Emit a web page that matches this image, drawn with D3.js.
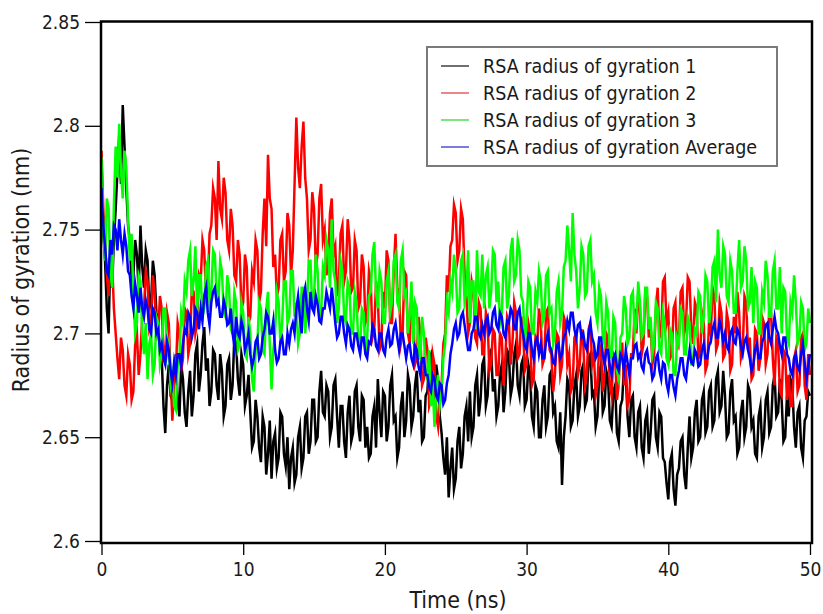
<!DOCTYPE html>
<html>
<head>
<meta charset="utf-8">
<script src="https://cdn.jsdelivr.net/npm/d3@7"></script>
<style>
  html, body { margin: 0; padding: 0; background: #fff; }
  svg { display: block; }
  text { font-family: "DejaVu Sans Condensed", "DejaVu Sans", sans-serif; fill: #1a1a1a; }
</style>
</head>
<body>
<svg id="chart" width="823" height="614"></svg>
<script>
const timeStep = 0.125;
const timeMax = 50;

const rg1 = [
  2.772,2.748,2.735,2.712,2.700,2.738,2.722,2.745,
  2.760,2.778,2.795,2.772,2.810,2.790,2.770,2.752,
  2.745,2.722,2.728,2.745,2.738,2.720,2.752,2.732,
  2.722,2.740,2.735,2.712,2.715,2.735,2.728,2.710,
  2.705,2.690,2.688,2.665,2.652,2.675,2.685,2.670,
  2.668,2.682,2.690,2.668,2.660,2.685,2.678,2.662,
  2.655,2.672,2.682,2.660,2.670,2.690,2.695,2.672,
  2.680,2.695,2.703,2.682,2.688,2.665,2.672,2.692,
  2.690,2.675,2.668,2.690,2.682,2.660,2.665,2.685,
  2.688,2.668,2.675,2.698,2.695,2.678,2.670,2.690,
  2.685,2.665,2.670,2.680,2.662,2.645,2.648,2.668,
  2.660,2.645,2.638,2.660,2.655,2.632,2.642,2.658,
  2.630,2.648,2.652,2.635,2.640,2.662,2.660,2.642,
  2.636,2.650,2.625,2.640,2.645,2.628,2.632,2.650,
  2.655,2.635,2.640,2.660,2.662,2.642,2.648,2.668,
  2.668,2.648,2.650,2.672,2.682,2.662,2.660,2.675,
  2.672,2.650,2.655,2.675,2.678,2.660,2.645,2.665,
  2.665,2.648,2.640,2.662,2.670,2.648,2.652,2.672,
  2.675,2.655,2.648,2.670,2.668,2.645,2.655,2.640,
  2.642,2.660,2.665,2.645,2.678,2.662,2.650,2.672,
  2.670,2.648,2.655,2.675,2.680,2.658,2.660,2.640,
  2.645,2.665,2.672,2.650,2.658,2.680,2.675,2.655,
  2.660,2.675,2.682,2.662,2.668,2.648,2.650,2.670,
  2.672,2.688,2.690,2.668,2.665,2.685,2.678,2.660,
  2.652,2.640,2.632,2.650,2.621,2.635,2.645,2.625,
  2.630,2.648,2.655,2.635,2.642,2.660,2.665,2.648,
  2.672,2.650,2.655,2.675,2.680,2.660,2.668,2.685,
  2.688,2.665,2.670,2.690,2.692,2.672,2.678,2.660,
  2.665,2.680,2.685,2.662,2.672,2.692,2.690,2.670,
  2.675,2.690,2.695,2.675,2.670,2.685,2.688,2.665,
  2.668,2.685,2.680,2.660,2.655,2.675,2.672,2.650,
  2.650,2.668,2.675,2.655,2.660,2.680,2.682,2.662,
  2.665,2.648,2.645,2.662,2.627,2.650,2.660,2.678,
  2.675,2.655,2.658,2.675,2.680,2.660,2.665,2.682,
  2.685,2.665,2.668,2.688,2.690,2.670,2.672,2.655,
  2.660,2.680,2.685,2.662,2.665,2.682,2.678,2.658,
  2.655,2.672,2.675,2.652,2.648,2.665,2.668,2.685,
  2.680,2.660,2.650,2.668,2.670,2.650,2.645,2.662,
  2.665,2.645,2.640,2.658,2.662,2.642,2.652,2.668,
  2.670,2.650,2.645,2.662,2.660,2.640,2.638,2.628,
  2.620,2.638,2.642,2.625,2.617,2.632,2.635,2.648,
  2.650,2.632,2.625,2.645,2.660,2.640,2.645,2.662,
  2.668,2.648,2.650,2.668,2.672,2.652,2.655,2.672,
  2.675,2.655,2.658,2.678,2.682,2.662,2.665,2.682,
  2.670,2.650,2.652,2.672,2.678,2.658,2.660,2.642,
  2.645,2.662,2.668,2.650,2.655,2.675,2.672,2.655,
  2.658,2.642,2.640,2.660,2.665,2.645,2.650,2.668,
  2.672,2.652,2.655,2.675,2.680,2.660,2.662,2.678,
  2.668,2.648,2.650,2.670,2.660,2.678,2.675,2.655,
  2.645,2.662,2.665,2.645,2.640,2.658,2.660,2.672,
  2.670
];

const rg2 = [
  2.788,2.760,2.745,2.728,2.718,2.742,2.735,2.712,
  2.700,2.688,2.678,2.698,2.692,2.675,2.670,2.690,
  2.685,2.668,2.672,2.695,2.700,2.680,2.690,2.708,
  2.712,2.730,2.725,2.702,2.705,2.728,2.720,2.698,
  2.700,2.718,2.712,2.688,2.690,2.710,2.705,2.680,
  2.658,2.675,2.682,2.705,2.700,2.682,2.688,2.712,
  2.710,2.690,2.695,2.722,2.720,2.700,2.705,2.728,
  2.725,2.745,2.740,2.718,2.722,2.748,2.752,2.770,
  2.765,2.745,2.783,2.760,2.755,2.775,2.768,2.745,
  2.740,2.760,2.752,2.728,2.725,2.745,2.738,2.712,
  2.715,2.738,2.732,2.705,2.708,2.730,2.725,2.745,
  2.740,2.715,2.720,2.748,2.765,2.742,2.786,2.765,
  2.760,2.732,2.738,2.718,2.722,2.745,2.748,2.725,
  2.730,2.758,2.752,2.728,2.740,2.772,2.804,2.780,
  2.770,2.790,2.802,2.775,2.765,2.740,2.745,2.768,
  2.760,2.732,2.738,2.765,2.772,2.745,2.750,2.728,
  2.735,2.758,2.765,2.738,2.742,2.718,2.725,2.748,
  2.752,2.725,2.730,2.755,2.745,2.720,2.722,2.745,
  2.740,2.712,2.715,2.738,2.732,2.705,2.708,2.730,
  2.725,2.698,2.702,2.725,2.718,2.692,2.695,2.720,
  2.712,2.740,2.735,2.705,2.705,2.730,2.748,2.722,
  2.720,2.695,2.700,2.730,2.728,2.700,2.695,2.718,
  2.710,2.685,2.688,2.708,2.700,2.675,2.678,2.698,
  2.692,2.665,2.668,2.690,2.685,2.660,2.655,2.672,
  2.675,2.695,2.700,2.728,2.720,2.742,2.745,2.762,
  2.758,2.735,2.740,2.760,2.755,2.728,2.718,2.700,
  2.705,2.725,2.720,2.698,2.695,2.715,2.712,2.690,
  2.690,2.710,2.705,2.682,2.685,2.702,2.700,2.680,
  2.680,2.700,2.698,2.675,2.688,2.708,2.705,2.685,
  2.695,2.715,2.710,2.688,2.690,2.708,2.702,2.682,
  2.685,2.705,2.700,2.675,2.678,2.698,2.695,2.712,
  2.705,2.685,2.688,2.710,2.712,2.692,2.690,2.672,
  2.680,2.700,2.698,2.680,2.685,2.708,2.705,2.685,
  2.690,2.672,2.675,2.698,2.700,2.680,2.685,2.702,
  2.695,2.675,2.680,2.702,2.705,2.685,2.690,2.670,
  2.675,2.695,2.692,2.672,2.680,2.700,2.698,2.675,
  2.670,2.690,2.688,2.668,2.675,2.695,2.695,2.675,
  2.685,2.665,2.668,2.690,2.690,2.712,2.700,2.718,
  2.712,2.690,2.695,2.720,2.718,2.698,2.705,2.685,
  2.690,2.712,2.722,2.698,2.700,2.725,2.727,2.705,
  2.710,2.688,2.690,2.712,2.715,2.692,2.698,2.720,
  2.722,2.700,2.705,2.727,2.725,2.702,2.695,2.715,
  2.712,2.688,2.690,2.710,2.705,2.682,2.685,2.705,
  2.700,2.722,2.718,2.692,2.695,2.715,2.710,2.688,
  2.690,2.710,2.705,2.682,2.685,2.708,2.700,2.720,
  2.710,2.688,2.692,2.718,2.715,2.692,2.698,2.678,
  2.680,2.702,2.700,2.682,2.688,2.708,2.705,2.685,
  2.690,2.712,2.710,2.688,2.675,2.698,2.695,2.672,
  2.670,2.692,2.690,2.668,2.680,2.665,2.665,2.688,
  2.692,2.672,2.675,2.698,2.700,2.675,2.668,2.690,
  2.680
];

const rg3 = [
  2.785,2.752,2.735,2.765,2.760,2.730,2.722,2.762,
  2.790,2.775,2.801,2.778,2.765,2.788,2.780,2.755,
  2.735,2.748,2.718,2.700,2.705,2.728,2.725,2.700,
  2.690,2.705,2.678,2.695,2.700,2.680,2.685,2.708,
  2.705,2.685,2.690,2.712,2.712,2.690,2.695,2.675,
  2.680,2.665,2.663,2.685,2.688,2.710,2.705,2.725,
  2.720,2.735,2.740,2.718,2.725,2.742,2.710,2.728,
  2.728,2.708,2.712,2.732,2.735,2.715,2.720,2.740,
  2.738,2.718,2.715,2.735,2.730,2.710,2.708,2.728,
  2.722,2.702,2.700,2.720,2.715,2.692,2.695,2.715,
  2.710,2.690,2.688,2.708,2.700,2.678,2.672,2.692,
  2.695,2.715,2.712,2.692,2.690,2.712,2.720,2.695,
  2.673,2.692,2.700,2.720,2.715,2.695,2.705,2.725,
  2.725,2.705,2.708,2.730,2.730,2.708,2.715,2.695,
  2.700,2.722,2.722,2.700,2.712,2.735,2.735,2.712,
  2.718,2.738,2.730,2.708,2.710,2.732,2.728,2.745,
  2.740,2.722,2.755,2.730,2.725,2.705,2.712,2.735,
  2.730,2.708,2.705,2.725,2.722,2.700,2.700,2.720,
  2.715,2.695,2.692,2.712,2.710,2.690,2.698,2.718,
  2.720,2.738,2.744,2.720,2.712,2.730,2.725,2.705,
  2.705,2.725,2.730,2.710,2.715,2.735,2.738,2.715,
  2.712,2.735,2.740,2.718,2.720,2.700,2.708,2.725,
  2.695,2.715,2.712,2.690,2.688,2.708,2.700,2.680,
  2.678,2.692,2.665,2.675,2.655,2.672,2.680,2.665,
  2.670,2.688,2.695,2.715,2.710,2.725,2.720,2.738,
  2.730,2.710,2.712,2.735,2.738,2.715,2.720,2.740,
  2.705,2.725,2.725,2.702,2.740,2.720,2.718,2.738,
  2.712,2.728,2.732,2.712,2.720,2.740,2.738,2.715,
  2.725,2.705,2.710,2.732,2.735,2.712,2.718,2.740,
  2.746,2.725,2.728,2.745,2.740,2.718,2.715,2.695,
  2.705,2.725,2.722,2.700,2.700,2.720,2.715,2.730,
  2.725,2.705,2.708,2.728,2.730,2.710,2.712,2.695,
  2.700,2.720,2.725,2.705,2.710,2.732,2.735,2.752,
  2.740,2.725,2.758,2.738,2.730,2.712,2.722,2.742,
  2.738,2.718,2.720,2.742,2.745,2.725,2.728,2.710,
  2.705,2.722,2.718,2.698,2.695,2.715,2.710,2.690,
  2.688,2.708,2.705,2.682,2.678,2.698,2.700,2.718,
  2.712,2.695,2.698,2.718,2.720,2.700,2.705,2.725,
  2.715,2.698,2.700,2.722,2.722,2.702,2.708,2.690,
  2.695,2.715,2.712,2.692,2.690,2.710,2.705,2.688,
  2.685,2.702,2.700,2.680,2.680,2.698,2.695,2.712,
  2.710,2.690,2.690,2.708,2.705,2.685,2.685,2.702,
  2.700,2.720,2.718,2.700,2.708,2.728,2.725,2.705,
  2.712,2.732,2.735,2.715,2.750,2.728,2.722,2.742,
  2.738,2.718,2.715,2.735,2.730,2.710,2.710,2.730,
  2.745,2.722,2.725,2.742,2.735,2.712,2.715,2.732,
  2.705,2.725,2.722,2.700,2.700,2.720,2.715,2.735,
  2.728,2.708,2.708,2.730,2.735,2.712,2.712,2.732,
  2.700,2.722,2.720,2.698,2.695,2.715,2.710,2.728,
  2.715,2.695,2.698,2.715,2.712,2.692,2.695,2.712,
  2.705
];

const rgAvg = [
  2.770,2.752,2.742,2.730,2.728,2.745,2.738,2.752,
  2.750,2.740,2.755,2.745,2.738,2.748,2.742,2.730,
  2.728,2.718,2.712,2.724,2.718,2.710,2.722,2.712,
  2.708,2.716,2.712,2.702,2.700,2.712,2.710,2.700,
  2.702,2.692,2.695,2.688,2.685,2.696,2.692,2.682,
  2.676,2.686,2.680,2.690,2.690,2.684,2.695,2.702,
  2.700,2.710,2.708,2.698,2.702,2.712,2.710,2.702,
  2.712,2.706,2.718,2.722,2.710,2.704,2.715,2.720,
  2.722,2.714,2.716,2.708,2.708,2.716,2.712,2.704,
  2.705,2.712,2.700,2.694,2.708,2.700,2.698,2.706,
  2.702,2.692,2.695,2.700,2.690,2.684,2.688,2.696,
  2.698,2.688,2.690,2.698,2.702,2.710,2.708,2.700,
  2.700,2.706,2.692,2.686,2.688,2.696,2.698,2.690,
  2.690,2.700,2.695,2.702,2.705,2.700,2.712,2.718,
  2.708,2.700,2.718,2.722,2.712,2.706,2.720,2.712,
  2.710,2.718,2.714,2.706,2.705,2.712,2.712,2.720,
  2.716,2.712,2.722,2.714,2.705,2.698,2.700,2.708,
  2.708,2.700,2.695,2.704,2.702,2.694,2.692,2.700,
  2.700,2.694,2.690,2.698,2.698,2.690,2.688,2.696,
  2.695,2.704,2.702,2.694,2.692,2.700,2.700,2.692,
  2.690,2.698,2.702,2.694,2.695,2.702,2.705,2.698,
  2.692,2.700,2.700,2.694,2.688,2.694,2.695,2.688,
  2.685,2.694,2.692,2.684,2.680,2.688,2.688,2.680,
  2.680,2.674,2.672,2.680,2.678,2.670,2.668,2.676,
  2.675,2.666,2.668,2.676,2.680,2.690,2.695,2.702,
  2.705,2.698,2.700,2.708,2.710,2.704,2.698,2.692,
  2.692,2.700,2.702,2.708,2.708,2.700,2.698,2.704,
  2.700,2.706,2.708,2.700,2.702,2.710,2.712,2.704,
  2.702,2.710,2.708,2.700,2.698,2.706,2.705,2.712,
  2.710,2.702,2.702,2.710,2.712,2.704,2.700,2.694,
  2.692,2.700,2.700,2.692,2.688,2.696,2.698,2.690,
  2.695,2.688,2.688,2.696,2.700,2.694,2.692,2.686,
  2.685,2.694,2.695,2.688,2.690,2.698,2.700,2.706,
  2.702,2.710,2.710,2.702,2.698,2.704,2.705,2.698,
  2.700,2.694,2.692,2.700,2.705,2.698,2.695,2.688,
  2.690,2.698,2.698,2.690,2.685,2.692,2.692,2.684,
  2.680,2.688,2.690,2.684,2.682,2.690,2.688,2.682,
  2.692,2.686,2.680,2.688,2.688,2.694,2.695,2.688,
  2.690,2.684,2.682,2.690,2.692,2.686,2.685,2.678,
  2.680,2.688,2.690,2.682,2.678,2.686,2.685,2.676,
  2.672,2.680,2.680,2.674,2.670,2.678,2.682,2.688,
  2.688,2.680,2.678,2.686,2.692,2.686,2.685,2.692,
  2.690,2.684,2.685,2.692,2.695,2.688,2.688,2.694,
  2.696,2.702,2.705,2.698,2.698,2.706,2.702,2.696,
  2.700,2.694,2.692,2.700,2.702,2.696,2.695,2.702,
  2.700,2.694,2.690,2.696,2.698,2.692,2.688,2.682,
  2.685,2.692,2.695,2.688,2.688,2.696,2.698,2.704,
  2.705,2.698,2.695,2.702,2.708,2.702,2.700,2.694,
  2.690,2.698,2.698,2.690,2.688,2.682,2.680,2.688,
  2.690,2.684,2.682,2.690,2.695,2.686,2.678,2.684,
  2.690
];

const seriesNames = [
  "RSA radius of gyration 1",
  "RSA radius of gyration 2",
  "RSA radius of gyration 3",
  "RSA radius of gyration Average"
];
const seriesColors = ["#000000", "#ff0000", "#00ff00", "#0000ff"];
const legendColors = ["#4d4d4d", "#e86a6a", "#5fe05f", "#5c5cd6"];

const xTicks = [0, 10, 20, 30, 40, 50];
const yTicks = [2.6, 2.65, 2.7, 2.75, 2.8, 2.85];
const yTickLabels = ["2.6", "2.65", "2.7", "2.75", "2.8", "2.85"];

// ==== LAYOUT ====
const svg = d3.select("#chart");
const x = d3.scaleLinear().domain([0, timeMax]).range([101.5, 810]);
const y = d3.scaleLinear().domain([2.6, 2.85]).range([541, 22]);

const plotLeft = x(0) - 0.5, plotRight = x(timeMax) + 2;
const plotTop = y(2.85) - 0.5, plotBottom = y(2.6) + 2;

svg.append("defs").append("clipPath")
  .attr("id", "plot-clip")
  .append("rect")
  .attr("x", plotLeft).attr("y", plotTop)
  .attr("width", plotRight - plotLeft).attr("height", plotBottom - plotTop);

// traces
const allSeries = [rg1, rg2, rg3, rgAvg];
const line = d3.line()
  .x((d, i) => x(i * timeStep))
  .y(d => y(d));

const tracesG = svg.append("g").attr("clip-path", "url(#plot-clip)");
allSeries.forEach((vals, idx) => {
  tracesG.append("path")
    .datum(vals)
    .attr("fill", "none")
    .attr("stroke", seriesColors[idx])
    .attr("stroke-width", 2.5)
    .attr("stroke-linejoin", "miter")
    .attr("stroke-miterlimit", 10)
    .attr("d", line);
});

// frame
svg.append("rect")
  .attr("x", plotLeft).attr("y", plotTop)
  .attr("width", plotRight - plotLeft).attr("height", plotBottom - plotTop)
  .attr("fill", "none")
  .attr("stroke", "#000")
  .attr("stroke-width", 2.5);

// y axis
const yAxis = d3.axisLeft(y)
  .tickValues(yTicks)
  .tickFormat((d, i) => yTickLabels[i])
  .tickSize(15)
  .tickPadding(5);

const yAxisG = svg.append("g")
  .attr("transform", `translate(${plotLeft - 1},0)`)
  .call(yAxis);
yAxisG.select(".domain").remove();
yAxisG.selectAll(".tick line").attr("stroke", "#000").attr("stroke-width", 1.3);
yAxisG.selectAll(".tick text")
  .style("font-family", '"DejaVu Sans Condensed", "DejaVu Sans", sans-serif')
  .style("font-size", "19px")
  .attr("fill", "#1a1a1a");

// x axis
const xAxis = d3.axisBottom(x)
  .tickValues(xTicks)
  .tickFormat(d3.format("d"))
  .tickSize(11)
  .tickPadding(8);

const xAxisG = svg.append("g")
  .attr("transform", `translate(0,${plotBottom + 1})`)
  .call(xAxis);
xAxisG.select(".domain").remove();
xAxisG.selectAll(".tick line").attr("stroke", "#000").attr("stroke-width", 1.3);
xAxisG.selectAll(".tick text")
  .style("font-family", '"DejaVu Sans Condensed", "DejaVu Sans", sans-serif')
  .style("font-size", "19px")
  .attr("fill", "#1a1a1a");

// axis titles
svg.append("text")
  .attr("x", 458)
  .attr("y", 608)
  .attr("text-anchor", "middle")
  .style("font-size", "23px")
  .text("Time (ns)");

svg.append("text")
  .attr("transform", "translate(29,270) rotate(-90)")
  .attr("text-anchor", "middle")
  .style("font-size", "23px")
  .text("Radius of gyration (nm)");

// legend
const legend = svg.append("g");
legend.append("rect")
  .attr("x", 427).attr("y", 47)
  .attr("width", 350).attr("height", 119)
  .attr("fill", "#fff")
  .attr("stroke", "#7a7a7a")
  .attr("stroke-width", 2);

seriesNames.forEach((name, i) => {
  const rowY = 66 + i * 27;
  legend.append("line")
    .attr("x1", 441).attr("x2", 469)
    .attr("y1", rowY).attr("y2", rowY)
    .attr("stroke", legendColors[i])
    .attr("stroke-width", 1.6);
  legend.append("text")
    .attr("x", 483)
    .attr("y", rowY)
    .attr("dy", "0.35em")
    .style("font-size", "19.5px")
    .text(name);
});
</script>
</body>
</html>
